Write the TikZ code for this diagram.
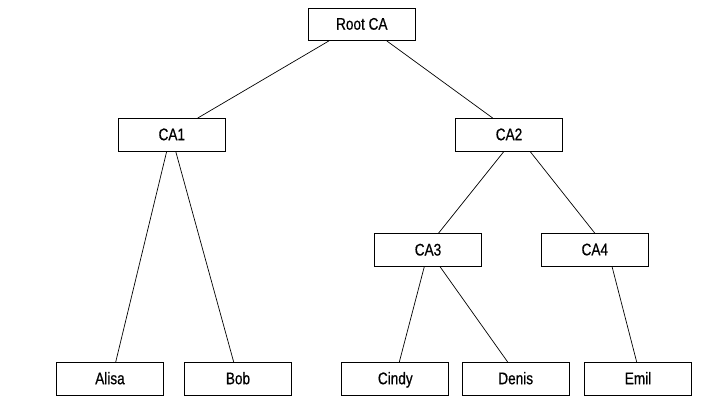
\documentclass[tikz,border=0pt]{standalone}
\usepackage{fontspec}
\setmainfont{Liberation Sans}[FakeStretch=0.81,FakeBold=0.6]
\begin{document}
\begin{tikzpicture}[x=1pt,y=-1pt,
  box/.style={draw, rectangle, line width=0.8pt, minimum width=107pt, minimum height=32.5pt, inner sep=0pt, text height=12pt, text depth=1pt, font=\fontsize{16.8}{16.8}\selectfont},
  link/.style={line width=0.7pt}]
\useasboundingbox (0,0) rectangle (727,402);
\node[box] (root) at (361.8,24.2) {Root CA};
\node[box] (ca1) at (171.8,134.7) {CA1};
\node[box] (ca2) at (509,134.7) {CA2};
\node[box] (ca3) at (428,250) {CA3};
\node[box] (ca4) at (594.8,249.8) {CA4};
\node[box] (alisa) at (110,378.7) {Alisa};
\node[box] (bob) at (238,378.7) {Bob};
\node[box] (cindy) at (395.3,378.7) {Cindy};
\node[box] (denis) at (515.7,378.7) {Denis};
\node[box] (emil) at (638,378.7) {Emil};
\draw[link] ([xshift=-32.8pt]root.south) -- ([xshift=25.9pt]ca1.north);
\draw[link] ([xshift=24.9pt]root.south) -- ([xshift=-16.3pt]ca2.north);
\draw[link] ([xshift=-5.1pt]ca1.south) -- ([xshift=5.7pt]alisa.north);
\draw[link] ([xshift=3.9pt]ca1.south) -- ([xshift=-4.3pt]bob.north);
\draw[link] ([xshift=-5pt]ca2.south) -- ([xshift=10.4pt]ca3.north);
\draw[link] ([xshift=21pt]ca2.south) -- (ca4.north);
\draw[link] ([xshift=-3.7pt]ca3.south) -- ([xshift=4pt]cindy.north);
\draw[link] ([xshift=12pt]ca3.south) -- ([xshift=-8pt]denis.north);
\draw[link] ([xshift=17.2pt]ca4.south) -- ([xshift=-1.3pt]emil.north);
\end{tikzpicture}
\end{document}
